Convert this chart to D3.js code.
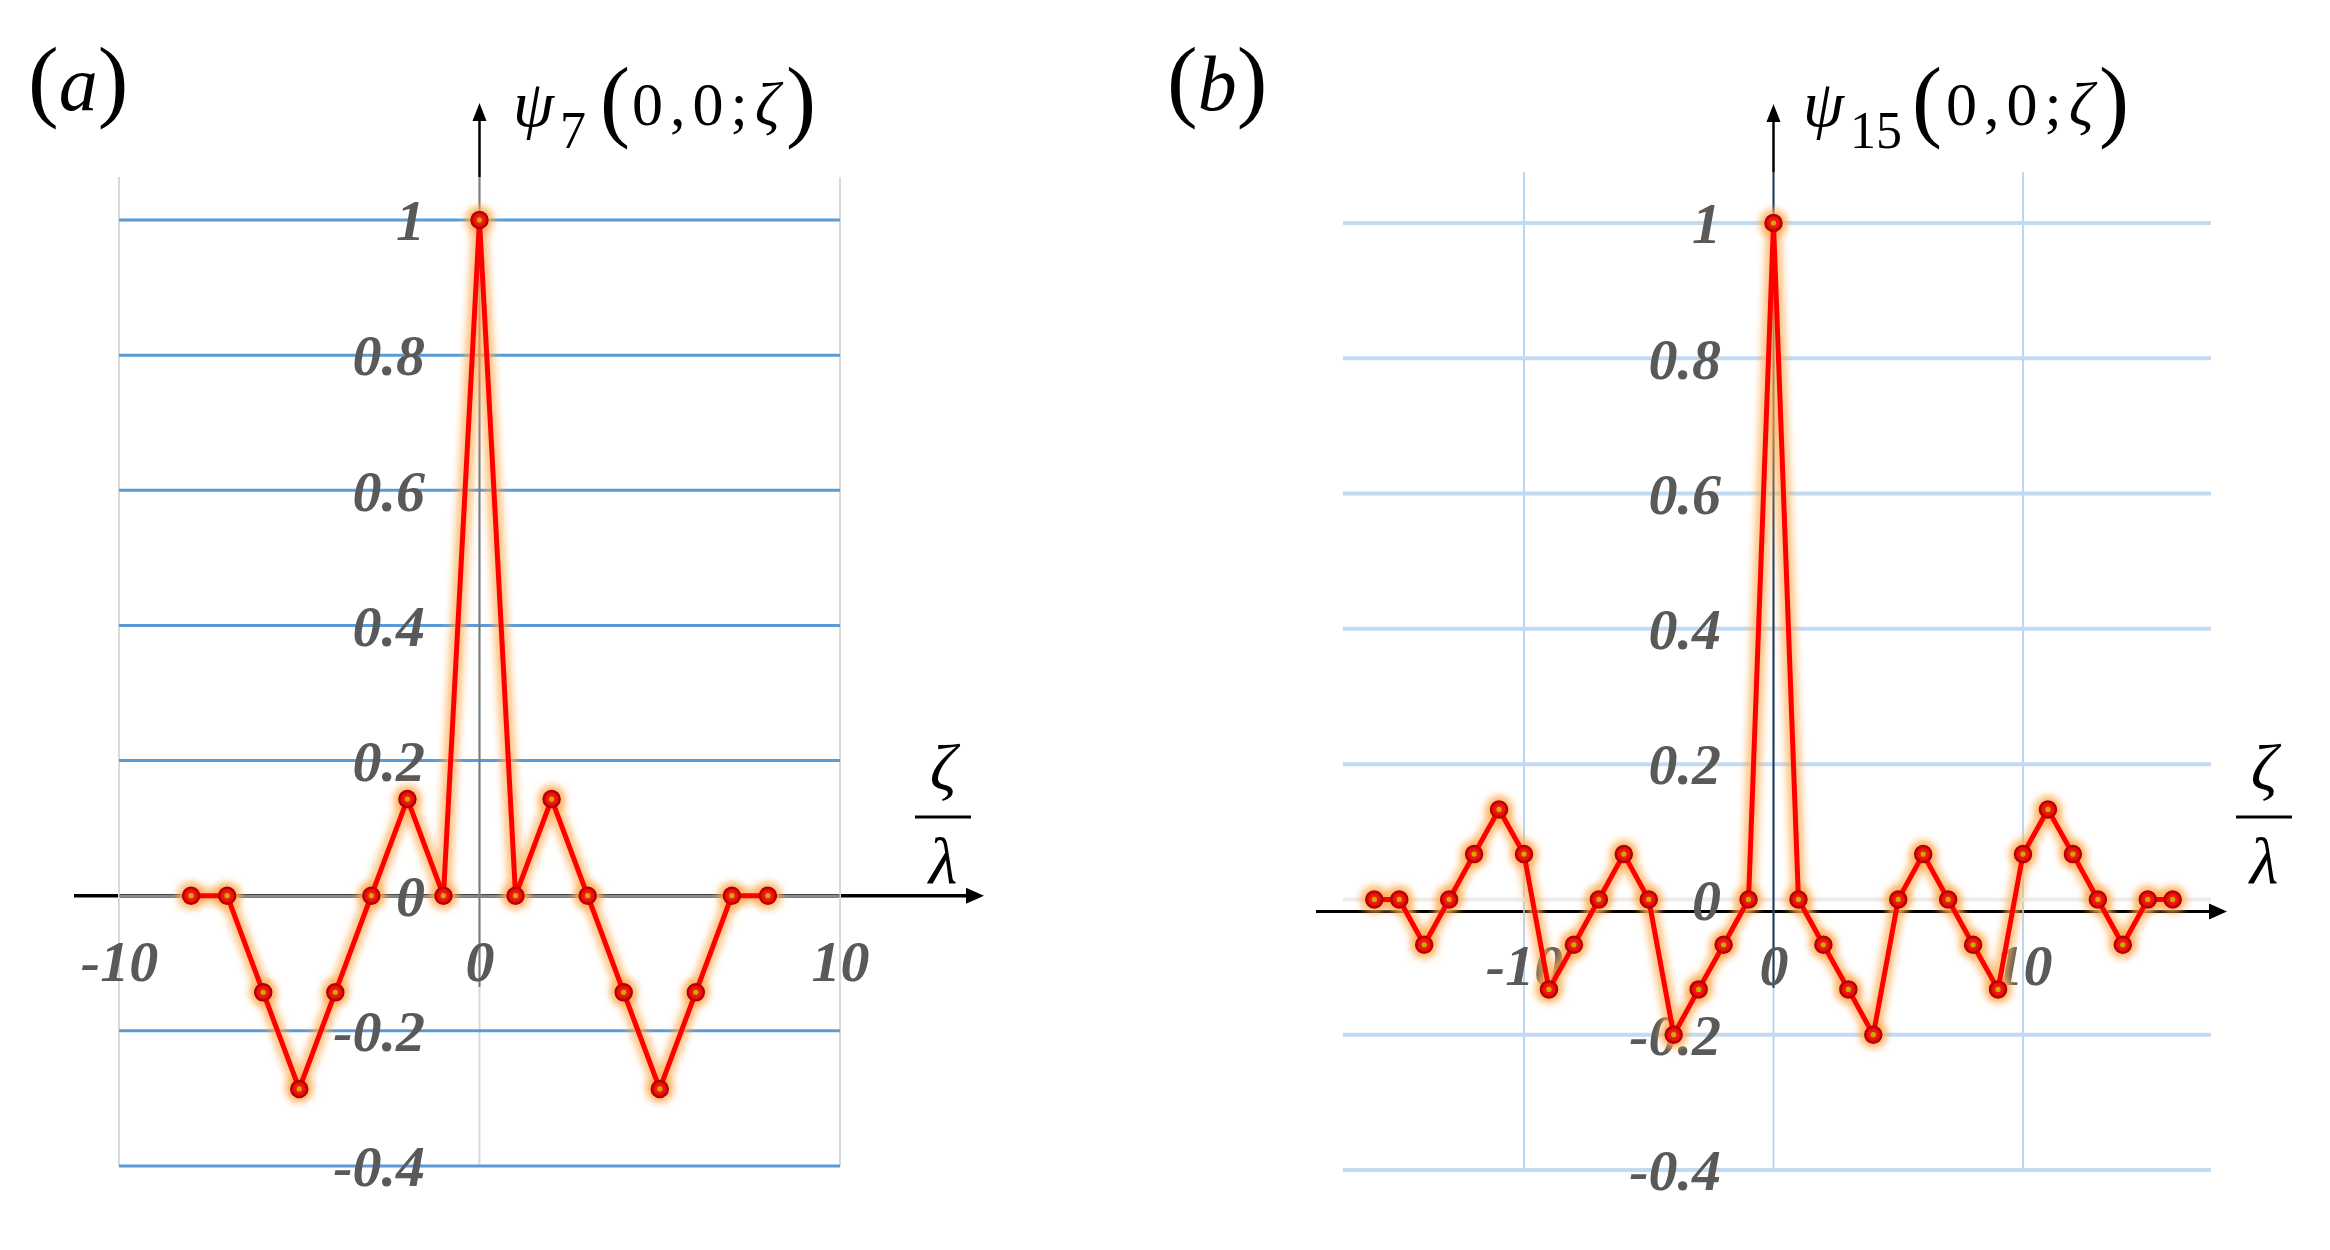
<!DOCTYPE html>
<html><head><meta charset="utf-8">
<script src="https://cdn.jsdelivr.net/npm/d3@7"></script>
<style>html,body{margin:0;padding:0;background:#fff;}svg{display:block;}</style>
</head><body>
<script>
// ---- data ----
const zetaA = [-8,-7,-6,-5,-4,-3,-2,-1,0,1,2,3,4,5,6,7,8];
const psi7  = [0,0,-0.143,-0.286,-0.143,0,0.143,0,1,0,0.143,0,-0.143,-0.286,-0.143,0,0];
const zetaB = [-16,-15,-14,-13,-12,-11,-10,-9,-8,-7,-6,-5,-4,-3,-2,-1,0,1,2,3,4,5,6,7,8,9,10,11,12,13,14,15,16];
const psi15 = [0,0,-0.067,0,0.067,0.133,0.067,-0.133,-0.067,0,0.067,0,-0.2,-0.133,-0.067,0,
               1,
               0,-0.067,-0.133,-0.2,0,0.067,0,-0.067,-0.133,0.067,0.133,0.067,0,-0.067,0,0];
const yTicks = [-0.4,-0.2,0,0.2,0.4,0.6,0.8,1];
const yTickLabels = ["-0.4","-0.2","0","0.2","0.4","0.6","0.8","1"];
const xTicks = [-10,0,10];
const xTickLabels = ["-10","0","10"];

const W = 2330, H = 1250;
const svg = d3.select("body").append("svg").attr("width", W).attr("height", H);
const defs = svg.append("defs");
defs.append("filter").attr("id","glow").attr("x","-50%").attr("y","-50%").attr("width","200%").attr("height","200%")
  .append("feGaussianBlur").attr("stdDeviation", 3.5);
const rg = defs.append("radialGradient").attr("id","mkfill");
rg.append("stop").attr("offset","0%").attr("stop-color","#ff2a10");
rg.append("stop").attr("offset","65%").attr("stop-color","#f01010");
rg.append("stop").attr("offset","100%").attr("stop-color","#a00000");

const labelFont = "'Liberation Serif','Times New Roman',serif";

function panel(cfg){
  const g = svg.append("g");
  const x = d3.scaleLinear().domain([-10,10]).range(cfg.xr);
  const y = d3.scaleLinear().domain([-0.4,1]).range(cfg.yr);
  const ay = y(0) + cfg.axisOffset;
  const ax = x(0);
  // x axis (black) under the grid
  g.append("line").attr("x1", cfg.axX[0]).attr("x2", cfg.axX[1]-12)
    .attr("y1", ay).attr("y2", ay).attr("stroke", "#000").attr("stroke-width", cfg.axisW);
  g.append("path").attr("d", `M${cfg.axX[1]},${ay} l-18,-8 l0,16 z`).attr("fill","#000");
  // vertical gridlines
  g.selectAll(".vg").data(xTicks).join("line")
    .attr("x1", d=>x(d)).attr("x2", d=>x(d))
    .attr("y1", cfg.gridTop).attr("y2", y(-0.4))
    .attr("stroke", cfg.vColor).attr("stroke-width", cfg.vWidth);
  // horizontal gridlines
  g.selectAll(".hg").data(yTicks).join("line")
    .attr("x1", cfg.hx[0]).attr("x2", cfg.hx[1])
    .attr("y1", d=>y(d)).attr("y2", d=>y(d))
    .attr("stroke", d => d===0 ? cfg.zeroColor : cfg.hColor)
    .attr("stroke-width", d => d===0 ? cfg.zeroWidth : cfg.hWidth);
  // y axis with arrow
  g.append("line").attr("x1", ax).attr("x2", ax).attr("y1", cfg.yArrowTop+12).attr("y2", cfg.gridTop)
    .attr("stroke","#000").attr("stroke-width", 2.5);
  g.append("line").attr("x1", ax).attr("x2", ax).attr("y1", cfg.gridTop).attr("y2", cfg.yAxisBottom)
    .attr("stroke", cfg.yAxisColor).attr("stroke-width", 2);
  g.append("path").attr("d", `M${ax},${cfg.yArrowTop} l-7,18 l14,0 z`).attr("fill","#000");

  // tick labels via d3 axes
  const yAx = d3.axisLeft(y).tickValues(yTicks).tickSize(0).tickPadding(0)
    .tickFormat((d,i)=>yTickLabels[i]);
  const gy = g.append("g").attr("transform", `translate(${cfg.yLabelX},0)`).call(yAx);
  gy.select(".domain").remove();
  gy.selectAll("text").attr("font-family", labelFont).attr("font-style","italic").attr("font-weight","bold")
    .attr("font-size", 58).attr("fill","#595959").attr("x",0).attr("dy","0.34em");
  const xAx = d3.axisBottom(x).tickValues(xTicks).tickSize(0).tickPadding(0)
    .tickFormat((d,i)=>xTickLabels[i]);
  const gx = g.append("g").attr("transform", `translate(0,${cfg.xLabelY})`).call(xAx);
  gx.select(".domain").remove();
  gx.selectAll("text").attr("font-family", labelFont).attr("font-style","italic").attr("font-weight","bold")
    .attr("font-size", 58).attr("fill","#595959").attr("y",0).attr("dy","0.71em");

  // data line
  const pts = cfg.zeta.map((z,i)=>[z, cfg.vals[i]]);
  const line = d3.line().x(d=>x(d[0])).y(d=>y(d[1]));
  g.append("path").attr("d", line(pts)).attr("fill","none").attr("stroke","#ffaa50")
    .attr("stroke-width", 15).attr("stroke-opacity", 0.7).attr("stroke-linejoin","round").attr("filter","url(#glow)");
  g.selectAll(".halo").data(pts).join("circle").attr("cx", d=>x(d[0])).attr("cy", d=>y(d[1]))
    .attr("r", 14).attr("fill","#ffaa50").attr("fill-opacity",0.8).attr("filter","url(#glow)");
  g.append("path").attr("d", line(pts)).attr("fill","none").attr("stroke","#ff0000")
    .attr("stroke-width", 5).attr("stroke-linejoin","round");
  g.selectAll(".mk").data(pts).join("circle").attr("cx", d=>x(d[0])).attr("cy", d=>y(d[1]))
    .attr("r", 8.5).attr("fill","url(#mkfill)").attr("stroke","#b00000").attr("stroke-width", 1.5);
  g.selectAll(".mkc").data(pts).join("circle").attr("cx", d=>x(d[0])).attr("cy", d=>y(d[1]))
    .attr("r", 2.6).attr("fill","#c0b000");

  // fraction zeta / lambda
  const fg = g.append("g").attr("font-family", labelFont).attr("font-style","italic").attr("font-size", 66)
    .attr("text-anchor","middle").attr("fill","#000");
  fg.append("text").attr("x", cfg.fracX).attr("y", 790).text("ζ");
  fg.append("line").attr("x1", cfg.fracX-28).attr("x2", cfg.fracX+28).attr("y1", 817).attr("y2", 817)
    .attr("stroke","#000").attr("stroke-width", 3);
  fg.append("text").attr("x", cfg.fracX).attr("y", 883).text("λ");

  // panel letter
  const pl = g.append("text").attr("font-family", labelFont).attr("fill","#000").attr("y", 110);
  pl.append("tspan").attr("x", cfg.letterX).attr("font-size", 92).text("(");
  pl.append("tspan").attr("font-size", 78).attr("font-style","italic").text(cfg.letter);
  pl.append("tspan").attr("font-size", 92).text(")");

  // y-axis title psi_n(0,0;zeta)
  const t = g.append("text").attr("font-family", labelFont).attr("fill","#000");
  t.append("tspan").attr("x", cfg.psiX).attr("y", 126).attr("font-size", 66).attr("font-style","italic").text("ψ");
  t.append("tspan").attr("x", cfg.subX).attr("y", 148).attr("font-size", 52).text(cfg.sub);
  t.append("tspan").attr("x", cfg.lpX).attr("y", 130).attr("font-size", 90).text("(");
  t.append("tspan").attr("x", cfg.argX).attr("y", 125).attr("font-size", 62).attr("letter-spacing", 7).text("0,0;");
  t.append("tspan").attr("font-size", 62).attr("font-style","italic").attr("letter-spacing", 0).text("ζ");
  t.append("tspan").attr("x", cfg.rpX).attr("y", 130).attr("font-size", 90).text(")");
}

panel({
  xr:[119, 840], yr:[1166, 220], gridTop:177, hx:[119, 840],
  vColor:"#d9d9d9", vWidth:2, hColor:"#5b9bd5", hWidth:3, zeroColor:"#8a8a8a", zeroWidth:2.5,
  axisOffset:0, axX:[74, 984], axisW:3.5, yArrowTop:103, yAxisBottom:987, yAxisColor:"#7a7a7a",
  yLabelX:425, xLabelY:940, zeta:zetaA, vals:psi7, fracX:943,
  letter:"a", letterX:28, psiX:513, subX:560, sub:"7", lpX:600, argX:632, rpX:786
});
panel({
  xr:[1524, 2023], yr:[1170, 223], gridTop:172, hx:[1343, 2211],
  vColor:"#a9cdee", vWidth:1.6, hColor:"#c3dbf2", hWidth:4, zeroColor:"#ececec", zeroWidth:4,
  axisOffset:12, axX:[1316, 2227], axisW:3, yArrowTop:104, yAxisBottom:988, yAxisColor:"#1f3550",
  yLabelX:1721, xLabelY:944, zeta:zetaB, vals:psi15, fracX:2264,
  letter:"b", letterX:1167, psiX:1803, subX:1850, sub:"15", lpX:1912, argX:1946, rpX:2099
});
</script>
</body></html>
